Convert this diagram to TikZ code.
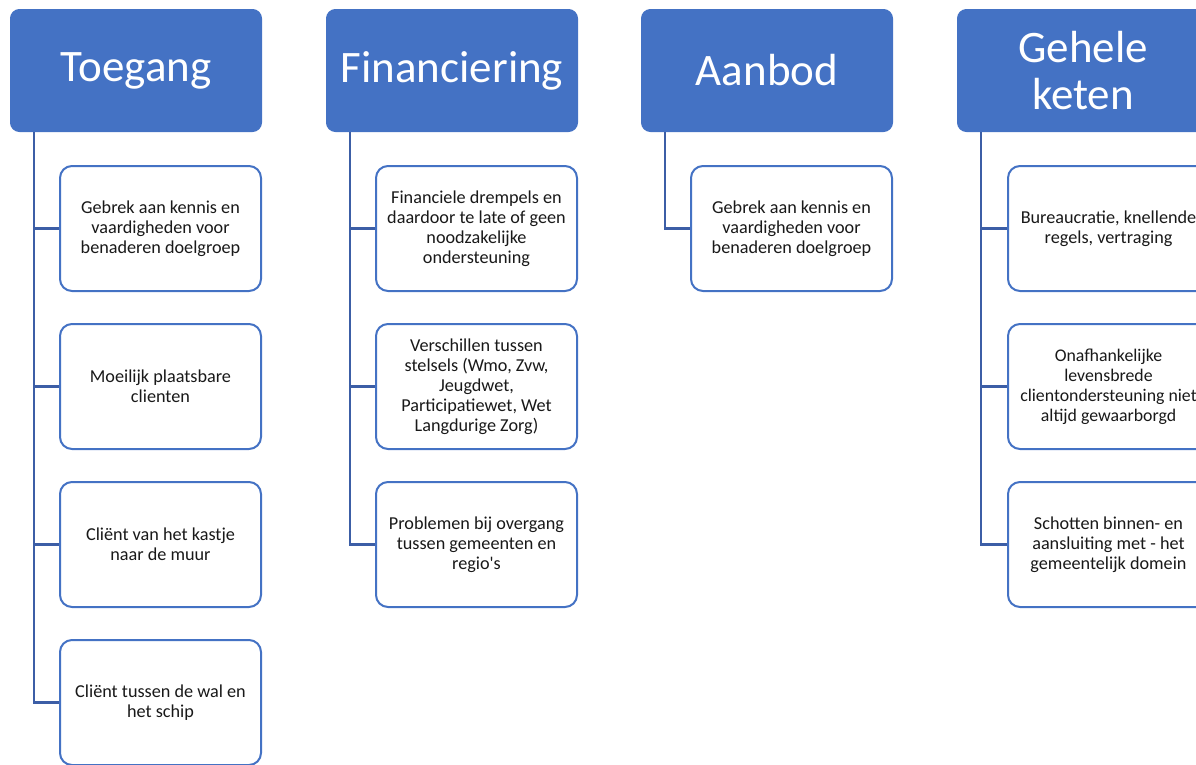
\documentclass[tikz,border=0pt]{standalone}
\usepackage{fontspec}
\setmainfont{Carlito}
\definecolor{kopblauw}{RGB}{68,114,196}
\definecolor{lijnblauw}{RGB}{60,94,166}
\tikzset{
  kop/.style={draw=kopblauw, fill=kopblauw, rounded corners=9pt, line width=1pt,
    minimum width=251pt, minimum height=122pt, inner sep=0pt, anchor=north west,
    text=white, align=center, font=\fontsize{45}{49}\selectfont},
  punt/.style={draw=kopblauw, fill=white, rounded corners=12pt, line width=2pt,
    minimum width=201pt, minimum height=125pt, inner sep=0pt, anchor=north west,
    align=center, text=black!90, font=\fontsize{18.2}{20}\selectfont},
  tak/.style={draw=lijnblauw, line width=2.5pt}
}
\begin{document}
\begin{tikzpicture}[x=1pt, y=-1pt]
    \useasboundingbox (0, 0) rectangle (1196, 764);
    \clip (0, 0) rectangle (1196, 764);

    % koppen
    \node [kop] (toeg) at (10, 9) {Toegang};
    \node [kop] (fin) at (326, 9) {Financiering};
    \node [kop] (aanb) at (641, 9) {Aanbod};
    \node [kop] (keten) at (957, 9) {Gehele\\[-2pt]keten};

    % Toegang
    \node [punt] (toeg1) at (59, 165) {Gebrek aan kennis en\\vaardigheden voor\\benaderen doelgroep};
    \node [punt] (toeg2) at (59, 323) {Moeilijk plaatsbare\\clienten};
    \node [punt] (toeg3) at (59, 481) {Cliënt van het kastje\\naar de muur};
    \node [punt] (toeg4) at (59, 639) {Cliënt tussen de wal en\\het schip};

    % Financiering
    \node [punt] (fin1) at (375, 165) {Financiele drempels en\\daardoor te late of geen\\noodzakelijke\\ondersteuning};
    \node [punt] (fin2) at (375, 323) {Verschillen tussen\\stelsels (Wmo, Zvw,\\Jeugdwet,\\Participatiewet, Wet\\Langdurige Zorg)};
    \node [punt] (fin3) at (375, 481) {Problemen bij overgang\\tussen gemeenten en\\regio\textquotesingle s};

    % Aanbod
    \node [punt] (aanb1) at (690, 165) {Gebrek aan kennis en\\vaardigheden voor\\benaderen doelgroep};

    % Gehele keten
    \node [punt] (keten1) at (1007, 165) {Bureaucratie, knellende\\regels, vertraging};
    \node [punt, font=\fontsize{17.8}{20}\selectfont] (keten2) at (1007, 323) {Onafhankelijke\\levensbrede\\clientondersteuning niet\\altijd gewaarborgd};
    \node [punt] (keten3) at (1007, 481) {Schotten binnen- en\\aansluiting met - het\\gemeentelijk domein};

    % takken
    \draw [tak] ([xshift=24pt]toeg.south west) |- (toeg1.west);
    \draw [tak] ([xshift=24pt]toeg.south west) |- (toeg2.west);
    \draw [tak] ([xshift=24pt]toeg.south west) |- (toeg3.west);
    \draw [tak] ([xshift=24pt]toeg.south west) |- (toeg4.west);
    \draw [tak] ([xshift=24pt]fin.south west) |- (fin1.west);
    \draw [tak] ([xshift=24pt]fin.south west) |- (fin2.west);
    \draw [tak] ([xshift=24pt]fin.south west) |- (fin3.west);
    \draw [tak] ([xshift=24pt]aanb.south west) |- (aanb1.west);
    \draw [tak] ([xshift=24pt]keten.south west) |- (keten1.west);
    \draw [tak] ([xshift=24pt]keten.south west) |- (keten2.west);
    \draw [tak] ([xshift=24pt]keten.south west) |- (keten3.west);
\end{tikzpicture}
\end{document}
